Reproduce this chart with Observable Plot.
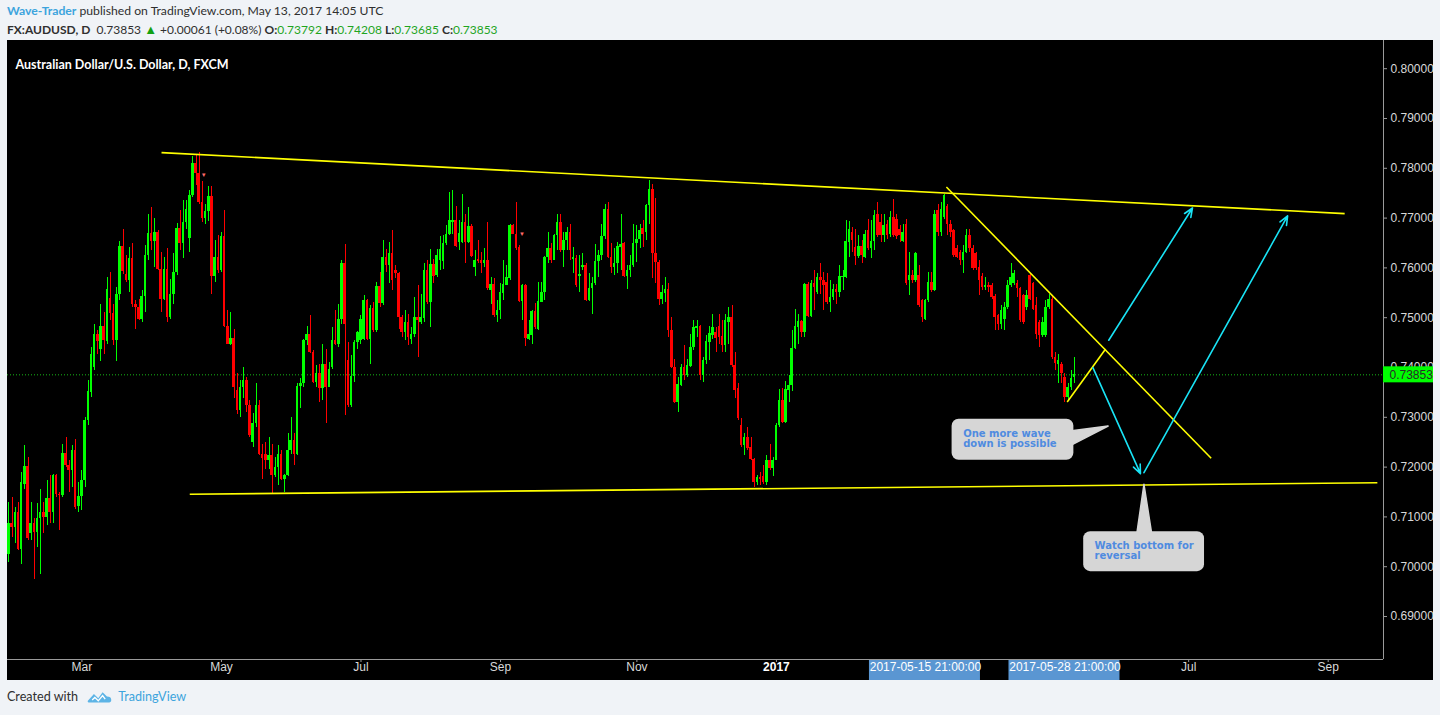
<!DOCTYPE html>
<html><head><meta charset="utf-8">
<script src="https://cdn.jsdelivr.net/npm/d3@7"></script>
<script src="https://cdn.jsdelivr.net/npm/@observablehq/plot@0.6"></script>
<style>
html,body{margin:0;padding:0;}
body{background:#f0f3f7;width:1440px;height:715px;overflow:hidden;position:relative;font-family:Lato,"Open Sans",sans-serif;color:#2f2f2f;}
#h1{position:absolute;left:7px;top:3px;font-size:12.2px;white-space:nowrap;}
#h1 .wt{color:#3da4dd;font-weight:bold;}
#h2{position:absolute;left:7px;top:21px;font-size:12px;white-space:nowrap;}
#h2 b{font-weight:bold;}
#h2 .g{color:#1fa51f;}
#h2 .tri{color:#12a012;font-size:13px;}
#chart{position:absolute;left:7px;top:40px;width:1426px;height:640px;background:#000;overflow:hidden;}
#foot{position:absolute;left:7px;top:689px;font-size:12.6px;white-space:nowrap;display:flex;align-items:center;}
#foot .tv{color:#3da4dd;margin-left:5px;}
</style>
</head><body>
<div id="h1"></div>
<div id="h2"></div>
<div id="chart"></div>
<div id="foot"><span>Created with</span>
<svg width="26" height="15" viewBox="0 0 30 16" style="margin-left:9px"><path d="M1 13 L8 5 L13 10 L18 3 L23 8 Q28 8 28 12 Q28 15 24 15 L3 15 Q0 15 1 13 Z" fill="#5db4e6"/><path d="M6 12 L9 9 L13 13 L18 7 L21 11" stroke="#fff" stroke-width="1.6" fill="none"/></svg>
<span class="tv">TradingView</span></div>
<script>
// ---------- data ----------
const author = "Wave-Trader";
const published = "published on TradingView.com, May 13, 2017 14:05 UTC";
const symbol = "FX:AUDUSD, D";
const chartTitle = "Australian Dollar/U.S. Dollar, D, FXCM";
const lastQuote = {last: 0.73853, change: "+0.00061", changePct: "(+0.08%)", O: 0.73792, H: 0.74208, L: 0.73685, C: 0.73853};
const firstBar = "2016-01-28";

// daily OHLC, in units of 0.0001
const barOpen = [7025,7086,7079,7109,7035,7166,7201,7067,7086,7069,7096,7109,7099,7136,7109,7183,7146,7143,7227,7203,7193,7234,7121,7141,7174,7293,7350,7400,7466,7437,7482,7453,7539,7508,7454,7547,7642,7587,7574,7618,7527,7520,7497,7542,7624,7669,7653,7671,7597,7537,7596,7500,7546,7591,7679,7649,7691,7660,7745,7810,7790,7731,7700,7713,7743,7582,7620,7594,7664,7482,7447,7459,7353,7313,7359,7373,
7323,7250,7287,7323,7226,7226,7213,7223,7183,7200,7225,7176,7183,7233,7254,7226,7361,7367,7454,7467,7430,7370,7387,7357,7406,7360,7400,7454,7447,7497,7609,7415,7323,7382,7450,7455,7457,7535,7457,7519,7474,7562,7529,7620,7604,7628,7594,7588,7501,7471,7491,7457,7467,7501,7491,7498,7594,7531,7606,7584,7614,7612,7648,7668,7691,7696,7651,7651,7691,7651,7683,7600,7616,7614,7608,7614,7554,7566,7504,7514,7549,7564,7578,7685,7668,7640,7533,7564,7457,7464,7513,7477,7531,7551,7620,7638,7614,
7665,7691,7634,7655,7671,7616,7618,7582,7601,7604,7534,7558,7568,7613,7624,7663,7718,7621,7601,7608,7641,7649,7582,7594,7604,7649,7658,7680,7671,7725,7758,7628,7611,7537,7549,7557,7474,7400,7330,7363,7400,7384,7402,7440,7479,7482,7384,7414,7450,7464,7471,7482,7462,7444,7491,7501,7404,7357,7283,7243,7260,7240,7216,7169,7180,7181,7170,7214,7198,7214,7283,7333,7290,7353,7363,7439,7481,7493,7471,7566,7502,7568,7551,7580,7574,7571,7531,7541,7557,7551,7581,7581,7651,7671,7641,7622,7642,7621,7676,7638,7654,7708,7691,7665,7687,7667,7701,
7698,7678,7654,7688,7574,7584,7574,7584,7534,7497,7534,7571,7554,7715,7671,7701,7723,7688,7675,7638,7631,7614,7631,7665,7638,7628,7601,7582,7561,7564,7564,7542,7504,7487,7497,7521,7564,7568,7568,7558,7544,7521,7584,7568,7524,7491,7464,7464,7521,7537,7420,7407,7407,7380,7340,7360,7379.2];
const barHigh = [7129,7139,7119,7129,7189,7243,7219,7129,7096,7126,7156,7129,7173,7183,7186,7186,7150,7246,7260,7213,7243,7256,7169,7193,7300,7373,7440,7486,7474,7527,7510,7581,7591,7527,7561,7654,7678,7624,7641,7648,7534,7537,7555,7644,7708,7721,7699,7676,7631,7620,7638,7577,7628,7689,7715,7735,7735,7756,7823,7828,7832,7773,7727,7763,7763,7656,7666,7671,7716,7515,7510,7477,7387,7373,7400,7379,
7333,7307,7367,7333,7246,7250,7260,7246,7220,7243,7233,7186,7267,7300,7267,7367,7377,7457,7482,7504,7434,7404,7407,7447,7437,7410,7481,7514,7527,7614,7646,7450,7424,7454,7472,7504,7544,7537,7524,7531,7571,7591,7656,7636,7651,7675,7605,7591,7504,7514,7507,7480,7541,7564,7547,7608,7614,7636,7616,7636,7663,7665,7685,7752,7756,7723,7695,7747,7708,7721,7688,7634,7655,7631,7638,7691,7581,7578,7534,7568,7614,7604,7687,7688,7731,7644,7567,7567,7495,7514,7529,7571,7571,7622,7671,7648,7668,
7708,7708,7671,7681,7688,7641,7624,7624,7628,7608,7588,7581,7646,7634,7688,7728,7731,7648,7638,7652,7707,7651,7604,7624,7688,7685,7688,7695,7728,7776,7768,7740,7614,7564,7581,7569,7501,7417,7380,7407,7444,7417,7467,7494,7494,7484,7420,7464,7482,7507,7481,7507,7495,7507,7521,7524,7430,7367,7297,7267,7279,7260,7218,7183,7190,7203,7223,7246,7220,7287,7355,7357,7372,7384,7474,7517,7507,7495,7568,7571,7574,7594,7588,7608,7591,7588,7574,7567,7567,7604,7594,7695,7693,7681,7678,7665,7655,7675,7698,7695,7715,7731,7708,7708,7695,7713,7738,
7708,7685,7688,7698,7631,7594,7631,7604,7537,7537,7591,7591,7715,7728,7731,7747,7728,7695,7678,7645,7634,7645,7678,7678,7645,7631,7614,7588,7581,7571,7568,7547,7507,7524,7531,7574,7608,7594,7574,7561,7547,7554,7588,7571,7541,7494,7501,7534,7547,7544,7430,7427,7410,7387,7367,7394,7420.8];
const barLow = [7009,7059,7046,7032,7005,7156,7052,7052,6975,7039,6985,7066,7082,7086,7086,7139,7072,7139,7199,7149,7159,7115,7109,7112,7159,7283,7340,7393,7427,7413,7427,7447,7494,7444,7413,7534,7587,7571,7551,7520,7477,7494,7490,7510,7615,7634,7601,7595,7510,7534,7490,7497,7527,7584,7634,7618,7678,7631,7742,7765,7728,7691,7688,7694,7546,7571,7588,7591,7480,7446,7444,7337,7306,7300,7337,7310,
7260,7240,7280,7223,7176,7196,7196,7146,7180,7163,7173,7149,7181,7226,7203,7224,7317,7360,7444,7428,7367,7360,7330,7333,7287,7359,7395,7444,7440,7487,7303,7320,7320,7370,7437,7447,7454,7454,7407,7470,7470,7521,7524,7591,7568,7554,7578,7477,7460,7454,7444,7447,7460,7420,7487,7491,7527,7481,7568,7581,7594,7596,7645,7665,7668,7641,7634,7648,7608,7648,7621,7582,7608,7588,7601,7554,7527,7501,7491,7497,7534,7564,7574,7668,7635,7531,7495,7442,7454,7447,7477,7474,7531,7534,7608,7608,7614,
7634,7631,7601,7634,7614,7588,7561,7551,7594,7533,7533,7507,7564,7581,7614,7658,7618,7588,7584,7588,7594,7581,7557,7581,7601,7611,7638,7641,7656,7688,7578,7568,7524,7527,7531,7460,7398,7327,7310,7362,7374,7380,7400,7434,7460,7374,7370,7407,7414,7457,7430,7447,7430,7430,7447,7400,7337,7293,7240,7223,7233,7213,7159,7163,7163,7166,7163,7193,7181,7213,7280,7287,7287,7330,7352,7437,7447,7460,7460,7501,7501,7515,7547,7547,7514,7527,7511,7534,7527,7541,7554,7578,7620,7631,7604,7618,7608,7618,7634,7618,7634,7661,7651,7651,7658,7661,7661,
7658,7651,7651,7564,7544,7568,7571,7521,7491,7494,7531,7551,7553,7664,7664,7698,7665,7661,7621,7618,7604,7588,7628,7631,7594,7594,7544,7554,7554,7551,7537,7474,7474,7477,7474,7517,7561,7564,7541,7491,7487,7514,7534,7514,7457,7441,7460,7460,7517,7417,7394,7367,7367,7330,7333,7353,7368.5];
const barClose = [7086,7079,7109,7035,7169,7201,7056,7086,7069,7096,7109,7099,7136,7109,7183,7146,7143,7227,7203,7193,7234,7119,7141,7174,7293,7352,7427,7466,7452,7482,7454,7556,7508,7454,7547,7642,7592,7574,7618,7527,7520,7497,7542,7624,7669,7653,7671,7597,7537,7596,7500,7546,7591,7679,7649,7691,7718,7745,7810,7790,7731,7700,7713,7743,7582,7620,7594,7664,7482,7447,7459,7360,7313,7359,7373,7323,
7263,7287,7323,7226,7218,7213,7223,7183,7200,7225,7176,7183,7233,7254,7226,7361,7367,7454,7467,7430,7370,7387,7357,7406,7360,7395,7454,7447,7497,7609,7487,7323,7382,7450,7471,7497,7535,7457,7519,7474,7562,7529,7620,7604,7628,7574,7588,7501,7471,7491,7460,7467,7501,7494,7501,7594,7531,7606,7582,7624,7636,7648,7668,7695,7696,7642,7669,7691,7651,7683,7622,7614,7613,7609,7614,7558,7566,7504,7515,7551,7566,7580,7685,7668,7638,7533,7564,7459,7466,7513,7481,7533,7551,7620,7638,7614,7665,
7691,7634,7655,7671,7634,7620,7564,7587,7604,7534,7558,7568,7613,7624,7663,7718,7621,7601,7608,7642,7646,7582,7594,7604,7649,7658,7675,7668,7725,7758,7628,7611,7537,7551,7557,7474,7400,7330,7365,7400,7384,7404,7440,7481,7482,7384,7415,7452,7469,7481,7459,7460,7444,7494,7501,7404,7353,7297,7243,7260,7237,7216,7169,7180,7176,7170,7214,7198,7214,7283,7333,7290,7355,7363,7439,7482,7493,7471,7566,7502,7568,7561,7580,7574,7564,7531,7541,7557,7551,7582,7582,7653,7678,7655,7622,7642,7624,7668,7638,7654,7705,7665,7665,7685,7665,7701,7665,
7663,7665,7671,7568,7584,7574,7628,7524,7501,7534,7571,7554,7708,7671,7718,7745,7688,7671,7624,7621,7614,7631,7665,7638,7598,7598,7574,7561,7564,7561,7541,7501,7487,7514,7521,7564,7581,7588,7558,7494,7491,7544,7537,7517,7467,7464,7491,7521,7537,7420,7408,7414,7387,7340,7360,7377,7385.3];

// price axis ticks
const priceTicks = [0.69, 0.70, 0.71, 0.72, 0.73, 0.74, 0.75, 0.76, 0.77, 0.78, 0.79, 0.80];
// time axis labels (first trading day of month)
const monthTickDates = ["2016-03-01", "2016-05-02", "2016-07-01", "2016-09-01", "2016-11-01", "2017-01-02", "2017-07-03", "2017-09-01"];
const monthTickLabels = ["Mar", "May", "Jul", "Sep", "Nov", "2017", "Jul", "Sep"];
// highlighted time-axis labels (selected drawing), bar index
const markedBars = [289, 333];
const markedLabels = ["2017-05-15 21:00:00", "2017-05-28 21:00:00"];

// drawings: bar index / price
const yellowFrom = [[48.1, 0.78314], [57.0, 0.71455], [295.6, 0.77625], [333.7, 0.73308]];
const yellowTo   = [[421.2, 0.77089], [431.5, 0.71687], [379.1, 0.72177], [345.8, 0.74372]];
const cyanFrom = [[341.8, 0.73997], [357.9, 0.71888], [346.8, 0.74547]];
const cyanTo   = [[356.8, 0.71868], [403.2, 0.77043], [373.2, 0.77203]];
const calloutText = ["One more wave\ndown is possible", "Watch bottom for\nreversal"];
const calloutBox = [[297.4, 335.8, 0.72137, 0.72961], [338.9, 377.0, 0.69901, 0.70704]];
const calloutTextAt = [[300.9, 0.72575], [342.3, 0.70320]];
const calloutPointer = [
  [[334.5, 0.72726], [346.6, 0.72826], [334.5, 0.72425]],
  [[355.5, 0.70600], [357.9, 0.71655], [360.5, 0.70600]]
];
const arrowMarkers = [[61.4, 0.77860], [161.8, 0.76675]];

// ---------- header ----------
document.getElementById("h1").innerHTML = `<span class="wt">${author}</span> ${published}`;
const f5 = d3.format(".5f");
document.getElementById("h2").innerHTML =
  `<b>${symbol}</b>&nbsp; ${f5(lastQuote.last)} <span class="tri">&#9650;</span> ${lastQuote.change} ${lastQuote.changePct} ` +
  `<b>O:</b><span class="g">${f5(lastQuote.O)}</span> <b>H:</b><span class="g">${f5(lastQuote.H)}</span> ` +
  `<b>L:</b><span class="g">${f5(lastQuote.L)}</span> <b>C:</b><span class="g">${f5(lastQuote.C)}</span>`;

// ---------- build tables ----------
function tradingDays(start, n) {
  const out = []; const d = new Date(start + "T00:00:00Z");
  while (out.length < n) { const w = d.getUTCDay(); if (w !== 0 && w !== 6) out.push(d.toISOString().slice(0, 10)); d.setUTCDate(d.getUTCDate() + 1); }
  return out;
}
const days = tradingDays(firstBar, 460);
const bars = barClose.map((c, i) => ({
  i, date: days[i], open: barOpen[i] / 1e4, high: barHigh[i] / 1e4, low: barLow[i] / 1e4, close: c / 1e4,
  col: c >= barOpen[i] ? "#00ff00" : "#ff0000"
}));
const monthTicks = monthTickDates.map((d, k) => ({i: days.indexOf(d), label: monthTickLabels[k]}));
const marked = markedBars.map((b, k) => ({i: b, label: markedLabels[k]}));
const yellow = yellowFrom.map((a, k) => ({x1: a[0], y1: a[1], x2: yellowTo[k][0], y2: yellowTo[k][1]}));
const cyan = cyanFrom.map((a, k) => ({x1: a[0], y1: a[1], x2: cyanTo[k][0], y2: cyanTo[k][1]}));
const callouts = calloutText.map((t, k) => ({text: t, x1: calloutBox[k][0], x2: calloutBox[k][1], y1: calloutBox[k][2], y2: calloutBox[k][3], tx: calloutTextAt[k][0], ty: calloutTextAt[k][1]}));
const pointers = calloutPointer.flatMap((pts, k) => pts.map(p => ({id: k, x: p[0], y: p[1]})));
const markers = arrowMarkers.map(m => ({x: m[0], y: m[1]}));

// ---------- plot ----------
const W = 1426, H = 640, mR = 50, mB = 21;
const xDom = [-0.47, 433.44], yDom = [0.68137, 0.80566];
const pxX = (xDom[1] - xDom[0]) / (W - mR);
const pxY = (yDom[1] - yDom[0]) / (H - mB);
const xMax = xDom[1], yMin = yDom[0];
const axisCol = "#9a9a9a", labCol = "#d9d9d9";
const axisFont = "Liberation Sans, Arial, sans-serif";

const chart = Plot.plot({
  width: W, height: H,
  marginLeft: 0, marginRight: mR, marginTop: 0, marginBottom: mB,
  x: {domain: xDom, axis: null},
  y: {domain: yDom, axis: null},
  color: {type: "identity"},
  style: {background: "#000", overflow: "hidden"},
  marks: [
    Plot.ruleY([lastQuote.last], {stroke: "#17b817", strokeDasharray: "1,2", strokeWidth: 1}),
    Plot.text([chartTitle], {frameAnchor: "top-left", dx: 8, dy: 20, fill: "#fff", fontWeight: "bold", fontSize: 12.5, fontFamily: "Lato, sans-serif", textAnchor: "start"}),
    // candles
    Plot.ruleX(bars, {x: "i", y1: "low", y2: "high", stroke: "col", strokeWidth: 1, shapeRendering: "crispEdges"}),
    Plot.rect(bars, {x1: d => d.i - 0.4, x2: d => d.i + 0.4, y1: "open", y2: "close", fill: "col", shapeRendering: "crispEdges"}),
    Plot.text(markers, {x: "x", y: "y", text: () => "\u25BC", fill: "#ff6a6a", fontSize: 6}),
    // drawings
    Plot.link(yellow, {x1: "x1", y1: "y1", x2: "x2", y2: "y2", stroke: "#ffff00", strokeWidth: 1.6}),
    Plot.arrow(cyan, {x1: "x1", y1: "y1", x2: "x2", y2: "y2", stroke: "#19e3f5", strokeWidth: 1.6, headLength: 9, headAngle: 45}),
    Plot.line(pointers, {x: "x", y: "y", z: "id", fill: "#d6d6d6", stroke: "#d6d6d6", curve: "linear-closed"}),
    Plot.rect(callouts, {x1: "x1", x2: "x2", y1: "y1", y2: "y2", fill: "#d6d6d6", rx: 7}),
    Plot.text(callouts, {x: "tx", y: "ty", text: "text", fill: "#4f8be0", fontWeight: "bold", fontSize: 10, fontFamily: "DejaVu Sans, sans-serif", textAnchor: "start", lineHeight: 1.05}),
    // frame lines
    Plot.ruleX([xMax], {stroke: axisCol}),
    Plot.ruleY([yMin], {stroke: axisCol}),
    // price axis
    Plot.ruleY(priceTicks, {x1: xMax, x2: xMax + 4 * pxX, stroke: axisCol}),
    Plot.text(priceTicks, {y: d => d, text: d => f5(d), frameAnchor: "right", dx: 7, textAnchor: "start", fill: labCol, fontSize: 12, fontFamily: axisFont}),
    Plot.rect([lastQuote.last], {x1: xMax, x2: xMax + 60 * pxX, y1: d => d - 8 * pxY, y2: d => d + 8 * pxY, fill: "#00ff00"}),
    Plot.text([lastQuote.last], {y: d => d, text: d => f5(d), frameAnchor: "right", dx: 6, textAnchor: "start", fill: "#2a2a2a", fontSize: 12, fontFamily: axisFont}),
    // time axis
    Plot.ruleX(monthTicks, {x: "i", y1: yMin, y2: yMin - 3 * pxY, stroke: axisCol}),
    Plot.text(monthTicks.filter(d => d.label !== "2017"), {x: "i", text: "label", frameAnchor: "bottom", dy: 11, fill: labCol, fontSize: 12, fontFamily: axisFont}),
    Plot.text(monthTicks.filter(d => d.label === "2017"), {x: "i", text: "label", frameAnchor: "bottom", dy: 11, fill: "#fff", fontWeight: "bold", fontSize: 12, fontFamily: axisFont}),
    Plot.rect(marked, {x1: d => d.i - 56 * pxX, x2: d => d.i + 55 * pxX, y1: yMin - 1 * pxY, y2: yMin - 21 * pxY, fill: "#5a96d2"}),
    Plot.ruleX(marked, {x: "i", y1: yMin - 1 * pxY, y2: yMin - 3 * pxY, stroke: "#b8d4f0"}),
    Plot.text(marked, {x: "i", text: "label", frameAnchor: "bottom", dy: 11, fill: "#fff", fontSize: 12, fontFamily: axisFont})
  ]
});
document.getElementById("chart").appendChild(chart);
</script>
</body></html>
